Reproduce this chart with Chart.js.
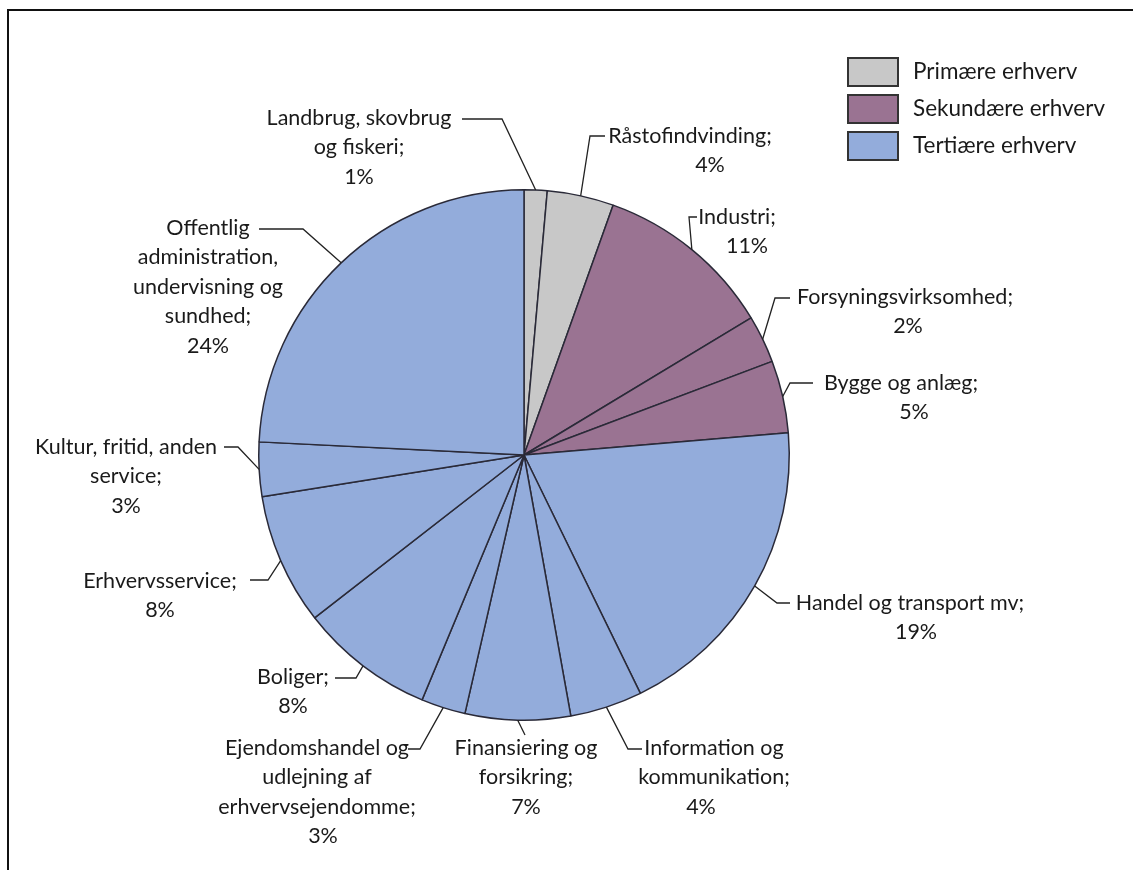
<!DOCTYPE html>
<html>
<head>
<meta charset="utf-8">
<script src="https://cdn.jsdelivr.net/npm/chart.js@4.4.1/dist/chart.umd.min.js"></script>
<style>
  body { margin: 0; background: #fff; }
  #wrap { width: 1133px; height: 870px; }
</style>
</head>
<body>
<div id="wrap"><canvas id="pie" width="1133" height="870"></canvas></div>
<script>
// sectors in clockwise order from 12 o'clock
const sectorLines = [
    ['Landbrug, skovbrug', 'og fiskeri;'],
    ['Råstofindvinding;'],
    ['Industri;'],
    ['Forsyningsvirksomhed;'],
    ['Bygge og anlæg;'],
    ['Handel og transport mv;'],
    ['Information og', 'kommunikation;'],
    ['Finansiering og', 'forsikring;'],
    ['Ejendomshandel og', 'udlejning af', 'erhvervsejendomme;'],
    ['Boliger;'],
    ['Erhvervsservice;'],
    ['Kultur, fritid, anden', 'service;'],
    ['Offentlig', 'administration,', 'undervisning og', 'sundhed;']
];
const shares = [1.4, 4.05, 10.9, 2.9, 4.4, 19.1, 4.4, 6.4, 2.7, 8.2, 8.0, 3.3, 24.2];
const shareText = ['1%', '4%', '11%', '2%', '5%', '19%', '4%', '7%', '3%', '8%', '8%', '3%', '24%'];
const sectorGroup = [0, 0, 1, 1, 1, 2, 2, 2, 2, 2, 2, 2, 2];
const groupNames = ['Primære erhverv', 'Sekundære erhverv', 'Tertiære erhverv'];
const groupColors = ['#c8c8c8', '#9a7392', '#93acdb'];

// label placement: text centre x, first line y, leader elbow, leader end, shift of % line
const labelPos = [
    { cx: 359, y: 118, elbow: [502, 119], end: [462, 119], pdx: 0 },
    { cx: 690, y: 136, elbow: [590, 136], end: [605, 136], pdx: 20 },
    { cx: 737, y: 217, elbow: [689, 217], end: [697, 217], pdx: 10 },
    { cx: 905, y: 297, elbow: [775, 298], end: [790, 298], pdx: 3 },
    { cx: 901, y: 383, elbow: [790, 383], end: [813, 383], pdx: 13 },
    { cx: 910, y: 603, elbow: [777, 603], end: [790, 603], pdx: 6 },
    { cx: 714, y: 748, elbow: [628, 749], end: [642, 749], pdx: -13 },
    { cx: 526, y: 748, elbow: [525, 735], end: [525, 735], pdx: 0 },
    { cx: 317, y: 748, elbow: [420, 749], end: [408, 749], pdx: 6 },
    { cx: 293, y: 677, elbow: [356, 678], end: [335, 678], pdx: 0 },
    { cx: 160, y: 581, elbow: [268, 580], end: [250, 580], pdx: 0 },
    { cx: 126, y: 447, elbow: [238, 447], end: [224, 447], pdx: 0 },
    { cx: 208, y: 228, elbow: [303, 229], end: [259, 229], pdx: 0 }
];

const FONT = '21.5px Lato, "Open Sans", sans-serif';
const LEGEND_FONT = '22.5px Lato, "Open Sans", sans-serif';
const LINE_H = 29.5;
const INK = '#1a1a1a';

const pageFrame = {
    id: 'pageFrame',
    beforeDraw(chart) {
        const ctx = chart.ctx;
        ctx.save();
        ctx.fillStyle = '#fff';
        ctx.fillRect(0, 0, chart.width, chart.height);
        ctx.strokeStyle = '#111';
        ctx.lineWidth = 2;
        ctx.strokeRect(8, 10, 1300, 1000);
        ctx.restore();
    }
};

const sliceLabels = {
    id: 'sliceLabels',
    afterDatasetsDraw(chart) {
        const ctx = chart.ctx;
        const arcs = chart.getDatasetMeta(0).data;
        ctx.save();
        ctx.font = FONT;
        ctx.fillStyle = INK;
        ctx.strokeStyle = '#222';
        ctx.lineWidth = 1.3;
        ctx.textAlign = 'center';
        ctx.textBaseline = 'middle';
        arcs.forEach((arc, i) => {
            const p = arc.getProps(['x', 'y', 'startAngle', 'endAngle', 'outerRadius'], true);
            const mid = (p.startAngle + p.endAngle) / 2;
            const sx = p.x + Math.cos(mid) * p.outerRadius;
            const sy = p.y + Math.sin(mid) * p.outerRadius;
            const lp = labelPos[i];
            ctx.beginPath();
            ctx.moveTo(sx, sy);
            ctx.lineTo(lp.elbow[0], lp.elbow[1]);
            ctx.lineTo(lp.end[0], lp.end[1]);
            ctx.stroke();
            const lines = sectorLines[i];
            lines.forEach((t, k) => ctx.fillText(t, lp.cx, lp.y + k * LINE_H));
            ctx.fillText(shareText[i], lp.cx + lp.pdx, lp.y + lines.length * LINE_H);
        });
        ctx.restore();
    }
};

const groupLegend = {
    id: 'groupLegend',
    afterDraw(chart) {
        const ctx = chart.ctx;
        ctx.save();
        ctx.font = LEGEND_FONT;
        ctx.textBaseline = 'middle';
        ctx.textAlign = 'left';
        const rows = [72, 109, 146];
        groupNames.forEach((name, g) => {
            ctx.fillStyle = groupColors[g];
            ctx.fillRect(848, rows[g] - 14, 50, 28);
            ctx.strokeStyle = '#333';
            ctx.lineWidth = 2;
            ctx.strokeRect(848, rows[g] - 14, 50, 28);
            ctx.fillStyle = INK;
            ctx.fillText(name, 913, rows[g]);
        });
        ctx.restore();
    }
};

new Chart('pie', {
    type: 'pie',
    data: {
        labels: sectorLines.map(l => l.join(' ')),
        datasets: [{
            data: shares,
            backgroundColor: sectorGroup.map(g => groupColors[g]),
            borderColor: '#2a2a38',
            borderWidth: 1.5
        }]
    },
    options: {
        responsive: false,
        animation: false,
        events: [],
        layout: { padding: { left: 258, top: 189, right: 343, bottom: 149 } },
        plugins: {
            legend: { display: false },
            tooltip: { enabled: false }
        }
    },
    plugins: [pageFrame, sliceLabels, groupLegend]
});
</script>
</body>
</html>
